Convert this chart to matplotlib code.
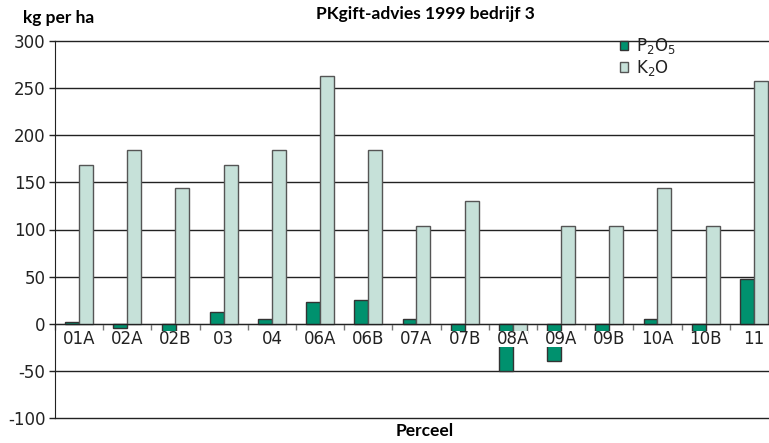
import matplotlib
matplotlib.use('Agg')
import matplotlib.pyplot as plt
import numpy as np

# Gegevens per perceel
percelen = ['01A', '02A', '02B', '03', '04', '06A', '06B', '07A', '07B',
            '08A', '09A', '09B', '10A', '10B', '11']
p2o5 = [2, -4, -10, 12, 5, 23, 25, 5, -22, -50, -40, -10, 5, -10, 48]
k2o = [168, 184, 144, 168, 184, 263, 184, 104, 130, -10, 104, 104, 144, 104, 258]
yticks = [-100, -50, 0, 50, 100, 150, 200, 250, 300]

donker = '#00916e'
licht = '#c6e1d9'
kop = ['Lato', 'DejaVu Sans']

fig = plt.figure(figsize=(7.69, 4.43), dpi=100)
ax = fig.add_axes([55 / 769, 1 - 418 / 443, 723 / 769, 377 / 443])

x = np.arange(len(percelen))
w = 0.29
ax.bar(x - w / 2, p2o5, w, color=donker, edgecolor='#333333', linewidth=1, zorder=2,
       label=r'$\mathregular{P_2O_5}$')
ax.bar(x + w / 2, k2o, w, color=licht, edgecolor='#555555', linewidth=1, zorder=2,
       label=r'$\mathregular{K_2O}$')

# Horizontale lijnen
for y in yticks:
    ax.axhline(y, color='#222222', linewidth=1, zorder=1, clip_on=False)

ax.set_xlim(-0.5, len(percelen) - 0.5)
ax.set_ylim(-100, 300)
ax.set_yticks(yticks)
ax.set_yticklabels([str(v) for v in yticks], fontsize=12, color='#222222')
ax.tick_params(axis='y', length=4, width=1, color='#222222', pad=3)

ax.spines['top'].set_visible(False)
ax.spines['right'].set_visible(False)
ax.spines['left'].set_color('#222222')
ax.spines['bottom'].set_position(('data', 0))
ax.spines['bottom'].set_color('#222222')

ax.set_xticks([])
ax.set_xticks(np.arange(len(percelen) + 1) - 0.5, minor=True)
ax.tick_params(axis='x', which='minor', length=4, width=1, color='#777777', direction='out')

# Categorielabels met witte achtergrond over de staven
for i, naam in enumerate(percelen):
    ax.annotate(naam, xy=(i, 0), xytext=(0, -4.5), textcoords='offset points',
                ha='center', va='top', fontsize=12, color='#222222', zorder=5,
                bbox=dict(facecolor='white', edgecolor='none', pad=-1))

leg = ax.legend(loc='upper left', bbox_to_anchor=(0.772, 1.03), frameon=False,
                fontsize=12, handlelength=0.5, handleheight=0.5, handletextpad=0.5,
                labelspacing=0.1, borderaxespad=0)
for t in leg.get_texts():
    t.set_color('#222222')

fig.text(23 / 769, 1 - 18 / 443, 'kg per ha', fontsize=12.5, fontweight='bold',
         va='center', ha='left', family=kop)
fig.text(425 / 769, 1 - 14 / 443, 'PKgift-advies 1999 bedrijf 3', fontsize=12.5,
         fontweight='bold', va='center', ha='center', family=kop)
fig.text(425 / 769, 1 - 431 / 443, 'Perceel', fontsize=12.5, fontweight='bold',
         va='center', ha='center', family=kop)

fig.savefig('out.png', dpi=100)
